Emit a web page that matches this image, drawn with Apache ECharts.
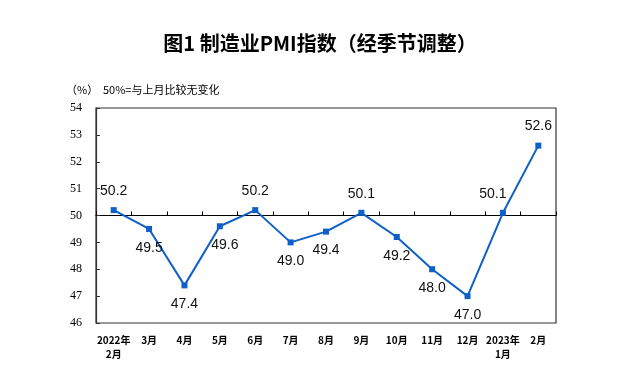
<!DOCTYPE html>
<html><head><meta charset="utf-8">
<script src="https://cdn.jsdelivr.net/npm/echarts@6/dist/echarts.min.js"></script>
<style>html,body{margin:0;padding:0;background:#fff}#c{width:640px;height:385px}</style>
</head><body><div id="c"></div>
<script>
const categories = ['2022年\n2月','3月','4月','5月','6月','7月','8月','9月','10月','11月','12月','2023年\n1月','2月'];
const pmi = [50.2, 49.5, 47.4, 49.6, 50.2, 49.0, 49.4, 50.1, 49.2, 48.0, 47.0, 50.1, 52.6];
const labelPos = ['top','bottom','bottom','bottom','top','bottom','bottom','top','bottom','bottom','bottom','top','top'];
const yTicks = [46, 47, 48, 49, 50, 51, 52, 53, 54];

const chart = echarts.init(document.getElementById('c'));
const data = pmi.map((v, i) => ({
  value: v,
  label: {
    position: labelPos[i],
    distance: 9,
    offset: i === 11 ? [-10, 0] : (i === 3 ? [5, 0] : [0, 0])
  }
}));
chart.setOption({
  animation: false,
  title: {
    text: '图1 制造业PMI指数（经季节调整）',
    left: 'center', top: 28,
    textStyle: { fontSize: 20, fontWeight: 'bold', color: '#000', fontFamily: 'Noto Sans CJK SC' }
  },
  graphic: [
    { type: 'text', left: 66, top: 84, style: { text: '（%）', fontSize: 11, fill: '#000', fontFamily: 'Noto Sans CJK SC' } },
    { type: 'text', left: 103, top: 84, style: { text: '50%=与上月比较无变化', fontSize: 11, fill: '#000', fontFamily: 'Noto Sans CJK SC' } }
  ],
  grid: { left: 96, right: 84, top: 108, bottom: 62, show: true, borderColor: '#333', borderWidth: 1.2, backgroundColor: 'transparent' },
  xAxis: [{
    type: 'category', data: categories, boundaryGap: true,
    axisLine: { show: false }, axisTick: { show: false },
    axisLabel: { fontSize: 10, color: '#000', margin: 10, lineHeight: 14, fontFamily: 'Noto Sans CJK SC', fontWeight: 'bold', interval: 0 }
  }, {
    type: 'category', data: categories, boundaryGap: true, position: 'bottom',
    offset: -107.5,
    axisLine: { show: true, lineStyle: { color: '#000', width: 1.2 } },
    axisTick: { show: true, inside: true, length: 4, lineStyle: { color: '#000' }, interval: 0 },
    axisLabel: { show: false }
  }],
  yAxis: {
    type: 'value', min: yTicks[0], max: yTicks[yTicks.length - 1], interval: 1,
    splitLine: { show: false },
    axisLine: { show: true, lineStyle: { color: '#333', width: 1.2 } },
    axisTick: { show: true, inside: true, length: 4, lineStyle: { color: '#333' } },
    axisLabel: { fontSize: 12, color: '#000', margin: 14, fontFamily: 'Liberation Serif' }
  },
  series: [{
    type: 'line', data: data, xAxisIndex: 0,
    symbol: 'rect', symbolSize: 6,
    lineStyle: { color: '#0f5fc8', width: 2 },
    itemStyle: { color: '#0f5fc8' },
    label: { show: true, fontSize: 14, color: '#111', fontFamily: 'Liberation Sans', formatter: p => p.value.toFixed(1) }
  }]
});
</script></body></html>
